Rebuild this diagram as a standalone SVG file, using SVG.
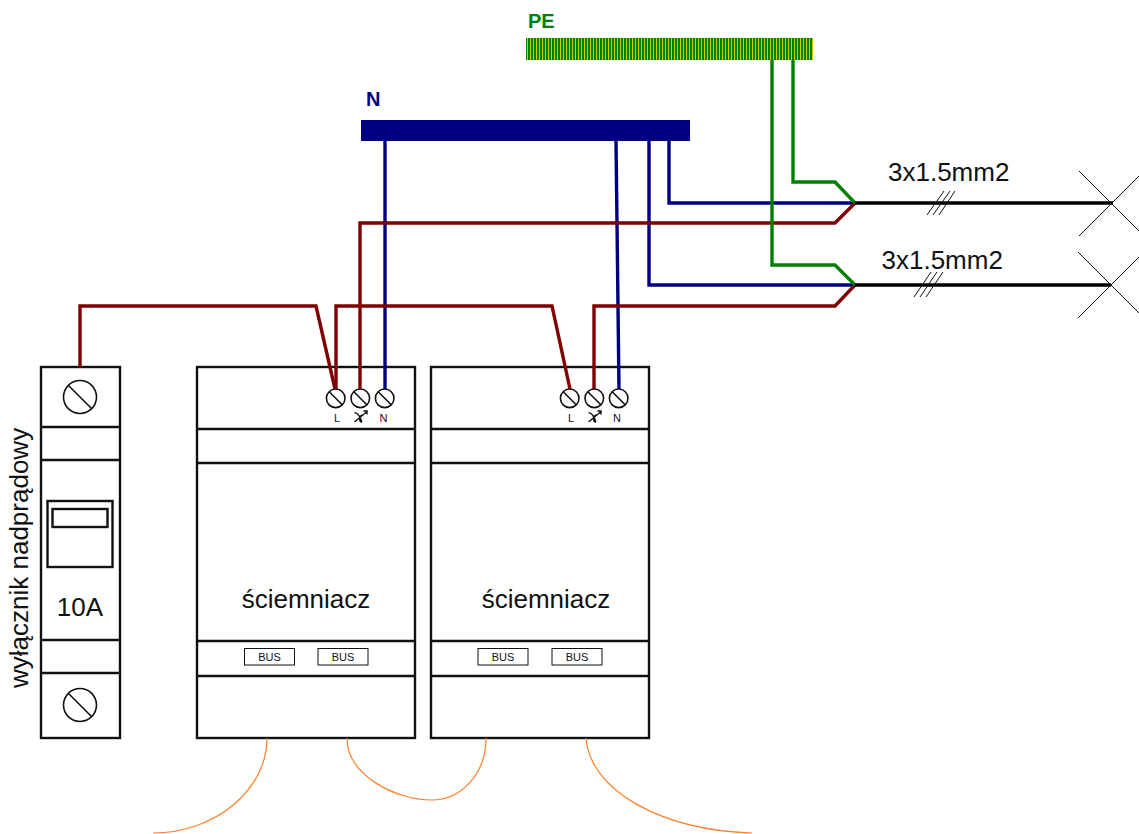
<svg xmlns="http://www.w3.org/2000/svg" width="1139" height="834" viewBox="0 0 1139 834">
<style>
text{font-family:"Liberation Sans",Arial,sans-serif;fill:#111}
.box{fill:#fff;stroke:#111;stroke-width:2.4}
.ln{fill:none;stroke:#111;stroke-width:2.4}
.sc{fill:#fff;stroke:#111;stroke-width:1.6}
.w{fill:none;stroke-width:3.4;stroke-linejoin:miter}
.r{stroke:#800000}.b{stroke:#000080}.g{stroke:#008000}
.k{fill:none;stroke:#000;stroke-width:3.4}
.t{fill:none;stroke:#111;stroke-width:1}
.o{fill:none;stroke:#ff7f27;stroke-width:1.2}
.lg{font-size:26px}.sm{font-size:11px}.bus{fill:#fff;stroke:#111;stroke-width:1}
.d{fill:none;stroke:#111;stroke-width:1.4}
</style>
<defs>
<pattern id="pe" width="3" height="10" patternUnits="userSpaceOnUse"><rect width="3" height="10" fill="#008000"/><rect x="2" width="1" height="10" fill="#c0d000"/></pattern>
<g id="s"><circle class="sc" r="9.3"/><line class="sc" x1="-6.5" y1="-6.5" x2="6.5" y2="6.5"/></g>
<g id="S"><circle class="sc" r="16.5"/><line class="sc" x1="-11.5" y1="-11.5" x2="11.5" y2="11.5"/></g>
<g id="dim"><path class="d" d="M-6 -4 C-2 -5 2 5 1 5 C-1 5 -2 -1 2 -2 M-6 5 L6 -5 M3 -6 H6.500 V-2.500"/></g>
</defs>

<g id="breaker">
<rect class="box" x="41" y="367" width="79" height="371"/>
<path class="ln" d="M41 427H120M41 460H120M41 640H120M41 673H120"/>
<rect class="ln" x="47.500" y="501" width="65" height="66"/>
<rect class="ln" x="52.500" y="509" width="55" height="18"/>
<use href="#S" x="80" y="397"/><use href="#S" x="80" y="705"/>
<text class="lg" x="80" y="616" text-anchor="middle">10A</text>
<text class="lg" transform="translate(28 688) rotate(-90)">wyłącznik nadprądowy</text>
</g>

<g id="dimmer1">
<rect class="box" x="197" y="367" width="218" height="371"/>
<path class="ln" d="M197 429H415M197 463H415M197 641H415M197 676H415"/>
<use href="#s" x="335.700" y="398.300"/><use href="#s" x="360.300" y="398.300"/><use href="#s" x="384.700" y="398.300"/>
<text class="sm" x="337" y="422" text-anchor="middle">L</text><use href="#dim" x="360.500" y="417"/><text class="sm" x="383.500" y="422" text-anchor="middle">N</text>
<text class="lg" x="306" y="608" text-anchor="middle">ściemniacz</text>
<rect class="bus" x="244.500" y="648.500" width="50" height="16.500"/><text class="sm" x="269.500" y="661" text-anchor="middle">BUS</text>
<rect class="bus" x="318" y="648.500" width="50" height="16.500"/><text class="sm" x="343" y="661" text-anchor="middle">BUS</text>
</g>

<g id="dimmer2">
<rect class="box" x="431" y="367" width="218" height="371"/>
<path class="ln" d="M431 429H649M431 463H649M431 641H649M431 676H649"/>
<use href="#s" x="569.700" y="398.300"/><use href="#s" x="594.300" y="398.300"/><use href="#s" x="618.700" y="398.300"/>
<text class="sm" x="571" y="422" text-anchor="middle">L</text><use href="#dim" x="594.500" y="417"/><text class="sm" x="617" y="422" text-anchor="middle">N</text>
<text class="lg" x="546" y="608" text-anchor="middle">ściemniacz</text>
<rect class="bus" x="478" y="648.500" width="50" height="16.500"/><text class="sm" x="503" y="661" text-anchor="middle">BUS</text>
<rect class="bus" x="552" y="648.500" width="50" height="16.500"/><text class="sm" x="577" y="661" text-anchor="middle">BUS</text>
</g>

<g id="pe-bar">
<rect x="526" y="38" width="287" height="22" fill="url(#pe)"/>
<text x="528" y="28" font-size="20" font-weight="bold" style="fill:#008000">PE</text>
</g>
<g id="n-bar">
<rect x="361" y="120" width="329" height="21" fill="#000080"/>
<text x="366" y="106" font-size="20" font-weight="bold" style="fill:#000080">N</text>
</g>

<g id="connectors">
<path class="w b" d="M385 141V389"/>
<path class="w b" d="M616 141L619 389"/>
<path class="w b" d="M649 141V285H855"/>
<path class="w b" d="M669 141V203H855"/>
<path class="w r" d="M80 367V306H316L335 389"/>
<path class="w r" d="M336 389V306H552L570 389"/>
<path class="w r" d="M360 389V223H835L855 203"/>
<path class="w r" d="M594 389V306H835L855 285"/>
<path class="w g" d="M793 60V182H835L855 203"/>
<path class="w g" d="M772 60V265H835L855 285"/>
<path class="k" d="M855 203H1113M855 285H1111"/>
<path class="t" d="M1079 171L1145 237M1079 236L1145 170M1078 252L1144 318M1078 318L1144 252"/>
<path class="t" d="M927 215L944 191M933 215L950 191M939 215L955 191M914 297L931 272M920 297L937 272M926 297L943 272"/>
<path class="o" d="M267 738C267 790 215 833 153 833"/>
<path class="o" d="M347 738C347 775 395 800 432 800C460 800 486 775 486 738"/>
<path class="o" d="M586 738C590 790 660 830 752 833"/>
</g>
<g id="cable-labels">
<text class="lg" x="888" y="181">3x1.5mm2</text>
<text class="lg" x="881.500" y="269">3x1.5mm2</text>
</g>
</svg>
